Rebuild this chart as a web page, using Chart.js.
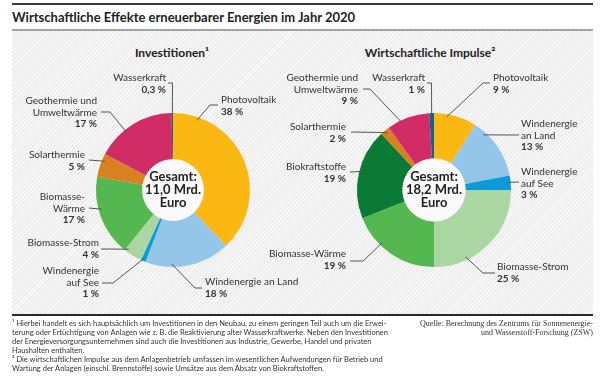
<!DOCTYPE html>
<html>
<head>
<meta charset="utf-8">
<script src="https://cdn.jsdelivr.net/npm/chart.js@4/dist/chart.umd.min.js"></script>
<style>
  body { margin: 0; width: 605px; height: 391px; background: #fff; position: relative; overflow: hidden;
         font-family: Lato, "Liberation Sans", sans-serif; color: #222; }
  #topline { position: absolute; left: 12px; top: 3px; width: 581px; height: 2px; background: #3a3a3a; }
  #title { position: absolute; left: 12px; top: 9px; font-weight: bold; font-size: 13px; white-space: nowrap; }
  #panel { position: absolute; left: 12px; top: 29px; width: 581px; height: 283px;
           border-top: 2px solid #a4a4a4; border-bottom: 2px solid #2a2a2a;
           background: repeating-linear-gradient(135deg, #ebebeb 0px, #ebebeb 1.4px, #f7f7f7 1.4px, #f7f7f7 3px); }
  canvas { position: absolute; left: 0; top: 0; }
  .sub { position: absolute; top: 45px; font-weight: bold; font-size: 12px; white-space: nowrap; transform: translateX(-50%); }
  #notes { position: absolute; left: 12px; top: 319px; font-size: 7.5px; line-height: 9px; white-space: nowrap; color: #333; }
  #source { position: absolute; right: 12px; top: 319px; font-family: "Liberation Serif", serif; font-size: 8px;
            line-height: 9px; text-align: right; color: #333; }
</style>
</head>
<body>
<div id="topline"></div>
<div id="title">Wirtschaftliche Effekte erneuerbarer Energien im Jahr 2020</div>
<div id="panel"></div>
<div class="sub" style="left:172px">Investitionen¹</div>
<div class="sub" style="left:430px">Wirtschaftliche Impulse²</div>
<canvas id="investChart" width="605" height="391"></canvas>
<canvas id="impulseChart" width="605" height="391"></canvas>
<div id="notes">¹ Hierbei handelt es sich hauptsächlich um Investitionen in den Neubau, zu einem geringen Teil auch um die Erwei-<br>
terung oder Ertüchtigung von Anlagen wie z. B. die Reaktivierung alter Wasserkraftwerke. Neben den Investitionen<br>
der Energieversorgungsunternehmen sind auch die Investitionen aus Industrie, Gewerbe, Handel und privaten<br>
Haushalten enthalten.<br>
² Die wirtschaftlichen Impulse aus dem Anlagenbetrieb umfassen im wesentlichen Aufwendungen für Betrieb und<br>
Wartung der Anlagen (einschl. Brennstoffe) sowie Umsätze aus dem Absatz von Biokraftstoffen.</div>
<div id="source">Quelle: Berechnung des Zentrums für Sonnenenergie-<br>und Wasserstoff-Forschung (ZSW)</div>

<script>
// ---------------- data ----------------
var investLabels = ["Photovoltaik", "Windenergie an Land", "Windenergie auf See", "Biomasse-Strom",
                    "Biomasse-Wärme", "Solarthermie", "Geothermie und Umweltwärme", "Wasserkraft"];
var investValues = [38, 18, 1, 4, 17, 5, 17, 0.3];
var investTotal = "11,0";

var impulseLabels = ["Photovoltaik", "Windenergie an Land", "Windenergie auf See", "Biomasse-Strom",
                     "Biomasse-Wärme", "Biokraftstoffe", "Solarthermie", "Geothermie und Umweltwärme", "Wasserkraft"];
var impulseValues = [9, 13, 3, 25, 19, 19, 2, 9, 1];
var impulseTotal = "18,2";

// colours per energy source
var sourceColors = {
  "Photovoltaik": "#fbb813",
  "Windenergie an Land": "#93c6e9",
  "Windenergie auf See": "#0c9bd8",
  "Biomasse-Strom": "#a9d6a1",
  "Biomasse-Wärme": "#55b74f",
  "Biokraftstoffe": "#0b7a35",
  "Solarthermie": "#d9801f",
  "Geothermie und Umweltwärme": "#d12c66",
  "Wasserkraft": "#14608f"
};

// label placement (text lines, anchor, leader elbow, where on the slice the leader ends)
var investLayout = [
  { lines: ["Photovoltaik"], x: 221, y: 100, align: "left", path: [[218, 105], [210, 105]], t: 0.14 },
  { lines: ["Windenergie an Land"], x: 205, y: 282, align: "left", path: [[202, 288], [195, 288]], t: 0.69 },
  { lines: ["Windenergie", "auf See"], x: 99, y: 271, align: "right", path: [[102, 283], [113, 283]], t: 0.5 },
  { lines: ["Biomasse-Strom"], x: 99, y: 243, align: "right", path: [[101, 249]], t: 0.85 },
  { lines: ["Biomasse-", "Wärme"], x: 85, y: 197, align: "right", path: [[89, 208]], t: 0.59 },
  { lines: ["Solarthermie"], x: 85, y: 155, align: "right", path: [[89, 160]], t: 0.72 },
  { lines: ["Geothermie und", "Umweltwärme"], x: 97, y: 101, align: "right", path: [[101, 112], [110, 112]], t: 0.38 },
  { lines: ["Wasserkraft"], x: 166, y: 78, align: "right", path: [[168, 83], [172.5, 83]], t: 0.5 }
];

var impulseLayout = [
  { lines: ["Photovoltaik"], x: 493, y: 78, align: "left", path: [[490, 83], [483, 83]], t: 0.3 },
  { lines: ["Windenergie", "an Land"], x: 521, y: 124, align: "left", path: [[519, 135]], t: 0.2 },
  { lines: ["Windenergie", "auf See"], x: 521, y: 172, align: "left", path: [[519, 182]], t: 0.45 },
  { lines: ["Biomasse-Strom"], x: 497, y: 267, align: "left", path: [[495, 273], [483, 273]], t: 0.72 },
  { lines: ["Biomasse-Wärme"], x: 346, y: 254, align: "right", path: [[350, 261], [363, 261]], t: 0.65 },
  { lines: ["Biokraftstoffe"], x: 346, y: 167, align: "right", path: [[350, 172]], t: 0.53 },
  { lines: ["Solarthermie"], x: 346, y: 127, align: "right", path: [[351, 132]], t: 0.58 },
  { lines: ["Geothermie und", "Umweltwärme"], x: 358, y: 78, align: "right", path: [[363, 89], [370, 89]], t: 0.33 },
  { lines: ["Wasserkraft"], x: 425, y: 78, align: "right", path: [[427, 83], [431.5, 83]], t: 0.5 }
];

var labelFont = "Lato, 'Liberation Sans', sans-serif";

function pctText(v) {
  return String(v).replace(".", ",") + " %";
}

// draws labels, leader lines and the centre text
function makeLabelPlugin(layout, total) {
  return {
    id: "sliceLabels",
    afterDatasetsDraw: function(chart) {
      var ctx = chart.ctx;
      var meta = chart.getDatasetMeta(0);
      var values = chart.data.datasets[0].data;
      ctx.save();

      // centre disc + total
      var a0 = meta.data[0];
      ctx.beginPath();
      ctx.arc(a0.x, a0.y, a0.innerRadius, 0, Math.PI * 2);
      ctx.fillStyle = "rgba(255,255,255,0.6)";
      ctx.fill();
      ctx.fillStyle = "#222";
      ctx.font = "bold 13px " + labelFont;
      ctx.textAlign = "center";
      ctx.textBaseline = "middle";
      ctx.fillText("Gesamt:", a0.x, a0.y - 13);
      ctx.fillText(total + " Mrd.", a0.x, a0.y);
      ctx.fillText("Euro", a0.x, a0.y + 13);

      meta.data.forEach(function(arc, i) {
        var lay = layout[i];
        var ang = arc.startAngle + lay.t * (arc.endAngle - arc.startAngle);
        var r = arc.outerRadius * 0.96;
        var ex = arc.x + r * Math.cos(ang);
        var ey = arc.y + r * Math.sin(ang);

        ctx.beginPath();
        ctx.moveTo(lay.path[0][0], lay.path[0][1]);
        for (var k = 1; k < lay.path.length; k++) ctx.lineTo(lay.path[k][0], lay.path[k][1]);
        ctx.lineTo(ex, ey);
        ctx.strokeStyle = "#555";
        ctx.lineWidth = 1;
        ctx.stroke();

        ctx.textAlign = lay.align;
        ctx.textBaseline = "middle";
        ctx.fillStyle = "#333";
        ctx.font = "10px " + labelFont;
        var y = lay.y;
        lay.lines.forEach(function(line) {
          ctx.fillText(line, lay.x, y);
          y += 11.3;
        });
        ctx.font = "bold 10px " + labelFont;
        ctx.fillText(pctText(values[i]), lay.x, y);
      });
      ctx.restore();
    }
  };
}

function makeDonut(canvasId, labels, values, layout, total, pad, cutout) {
  return new Chart(document.getElementById(canvasId), {
    type: "doughnut",
    data: {
      labels: labels,
      datasets: [{
        data: values,
        backgroundColor: labels.map(function(l) { return sourceColors[l]; }),
        borderWidth: 0,
        hoverOffset: 0,
        offset: 0
      }]
    },
    options: {
      responsive: false,
      animation: false,
      events: [],
      cutout: cutout,
      layout: { padding: pad },
      plugins: { legend: { display: false }, tooltip: { enabled: false } }
    },
    plugins: [makeLabelPlugin(layout, total)]
  });
}

var investChart = makeDonut("investChart", investLabels, investValues, investLayout, investTotal,
  { left: 96, right: 355, top: 113, bottom: 124 }, "40%");
var impulseChart = makeDonut("impulseChart", impulseLabels, impulseValues, impulseLayout, impulseTotal,
  { left: 357, right: 94, top: 113, bottom: 124 }, "41%");
</script>
</body>
</html>
